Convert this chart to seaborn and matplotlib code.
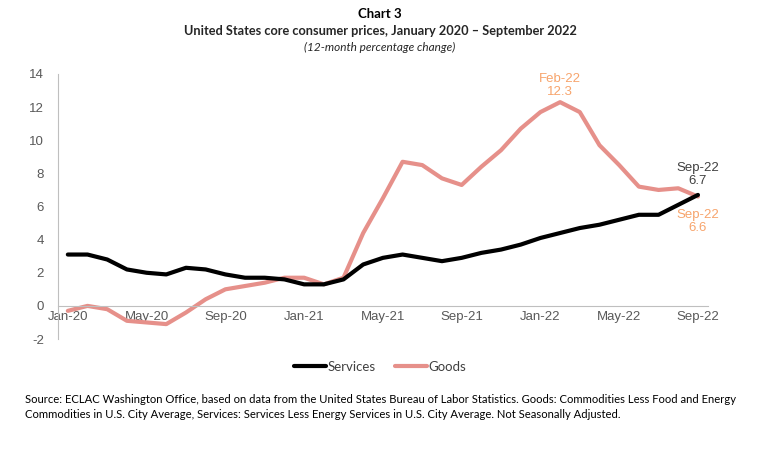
import numpy as np
import pandas as pd
import matplotlib
matplotlib.use("Agg")
import matplotlib.pyplot as plt
import seaborn as sns
from matplotlib.lines import Line2D

# Monatsreihe Jan-20 bis Sep-22
monate = ["Jan-20", "Feb-20", "Mar-20", "Apr-20", "May-20", "Jun-20", "Jul-20", "Aug-20",
          "Sep-20", "Oct-20", "Nov-20", "Dec-20", "Jan-21", "Feb-21", "Mar-21", "Apr-21",
          "May-21", "Jun-21", "Jul-21", "Aug-21", "Sep-21", "Oct-21", "Nov-21", "Dec-21",
          "Jan-22", "Feb-22", "Mar-22", "Apr-22", "May-22", "Jun-22", "Jul-22", "Aug-22",
          "Sep-22"]

services = [3.1, 3.1, 2.8, 2.2, 2.0, 1.9, 2.3, 2.2, 1.9, 1.7, 1.7, 1.6, 1.3, 1.3, 1.6, 2.5,
            2.9, 3.1, 2.9, 2.7, 2.9, 3.2, 3.4, 3.7, 4.1, 4.4, 4.7, 4.9, 5.2, 5.5, 5.5, 6.1,
            6.7]

goods = [-0.3, 0.0, -0.2, -0.9, -1.0, -1.1, -0.4, 0.4, 1.0, 1.2, 1.4, 1.7, 1.7, 1.3, 1.7,
         4.4, 6.5, 8.7, 8.5, 7.7, 7.3, 8.4, 9.4, 10.7, 11.7, 12.3, 11.7, 9.7, 8.5, 7.2, 7.0,
         7.1, 6.6]

y_ticks = [-2, 0, 2, 4, 6, 8, 10, 12, 14]

FARBE_SERVICES = "#000000"
FARBE_GOODS = "#E6908A"
FARBE_LABEL = "#F7A46C"
GRAU = "#595959"

df = pd.DataFrame({
    "idx": list(range(len(monate))) * 2,
    "wert": services + goods,
    "serie": ["Services"] * len(monate) + ["Goods"] * len(monate),
})

sns.set_style("white")
plt.rcParams["font.family"] = ["Liberation Sans", "DejaVu Sans"]

fig = plt.figure(figsize=(7.6, 4.59), dpi=100)
ax = fig.add_axes([0.0763, 0.2614, 0.855, 0.5774])

sns.lineplot(data=df, x="idx", y="wert", hue="serie",
             palette={"Services": FARBE_SERVICES, "Goods": FARBE_GOODS},
             hue_order=["Goods", "Services"], linewidth=3, legend=False, ax=ax)

ax.set_xlim(-0.5, len(monate) - 0.5)
ax.set_ylim(-2, 14)
ax.set_xlabel("")
ax.set_ylabel("")

# Achsen im Excel-Stil
for s in ["top", "right"]:
    ax.spines[s].set_visible(False)
ax.spines["bottom"].set_position(("data", 0))
ax.spines["bottom"].set_color("#BFBFBF")
ax.spines["left"].set_color("#BFBFBF")

ax.set_yticks(y_ticks)
ax.set_yticklabels([str(v) for v in y_ticks], fontsize=9.5, color=GRAU)
ax.tick_params(axis="y", length=4, color="#BFBFBF", pad=6)

label_pos = list(range(0, len(monate), 4))
ax.set_xticks([p - 0.5 for p in label_pos[1:]], minor=False)
ax.set_xticklabels([])
ax.set_xticks(label_pos, minor=True)
ax.set_xticklabels([monate[i] for i in label_pos], minor=True, fontsize=9.5, color=GRAU)
ax.tick_params(axis="x", which="major", length=4, color="#BFBFBF", direction="out")
ax.tick_params(axis="x", which="minor", length=0, pad=4)

# Beschriftungen der Datenpunkte
i_max = goods.index(max(goods))
ax.annotate(f"{monate[i_max]}\n{goods[i_max]}", (i_max, goods[i_max]),
            xytext=(0, 3), textcoords="offset points", ha="center", va="bottom",
            fontsize=9.5, color=FARBE_LABEL, linespacing=1.1)
i_end = len(monate) - 1
ax.annotate(f"{monate[i_end]}\n{services[i_end]}", (i_end, services[i_end]),
            xytext=(0, 6), textcoords="offset points", ha="center", va="bottom",
            fontsize=9.5, color="#404040", linespacing=1.1)
ax.annotate(f"{monate[i_end]}\n{goods[i_end]}", (i_end, goods[i_end]),
            xytext=(0, -9), textcoords="offset points", ha="center", va="top",
            fontsize=9.5, color=FARBE_LABEL, linespacing=1.1)

# Legende unten
handles = [Line2D([], [], color=FARBE_SERVICES, lw=3),
           Line2D([], [], color=FARBE_GOODS, lw=3)]
fig.legend(handles, ["Services", "Goods"], loc="center", bbox_to_anchor=(0.5, 1 - 367 / 459),
           ncol=2, frameon=False, handlelength=2.4, handletextpad=0.1, columnspacing=1.5,
           prop={"family": "Lato", "size": 9.5}, labelcolor="#404040")

# Titel
fig.text(0.5, 1 - 14 / 459, "Chart 3", ha="center", va="center",
         fontsize=9.5, fontweight="bold", family="Lato", color="#000000")
fig.text(0.5, 1 - 31 / 459, "United States core consumer prices, January 2020 \u2013 September 2022",
         ha="center", va="center", fontsize=9.2, fontweight="bold", family="Lato")
fig.text(0.5, 1 - 47 / 459, "(12-month percentage change)", ha="center", va="center",
         fontsize=8.5, style="italic", family="Lato")

quelle = ("Source: ECLAC Washington Office, based on data from the United States Bureau of Labor Statistics. "
          "Goods: Commodities Less Food and Energy\n"
          "Commodities in U.S. City Average, Services: Services Less Energy Services in U.S. City Average. "
          "Not Seasonally Adjusted.")
fig.text(25 / 760, 1 - 394 / 459, quelle, ha="left", va="top", fontsize=8.1,
         family="Lato", color="#000000", linespacing=1.45)

fig.savefig("out.png", dpi=100)
